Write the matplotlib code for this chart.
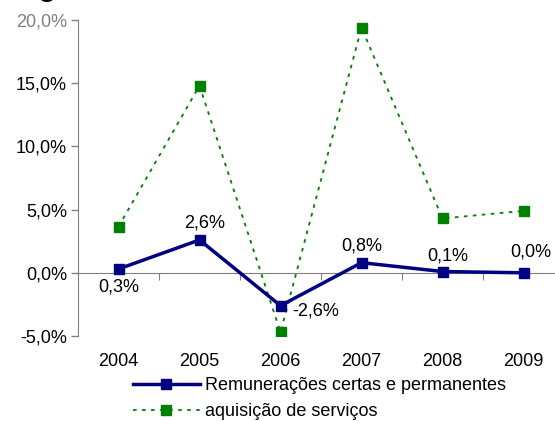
import matplotlib.pyplot as plt
from matplotlib.ticker import FuncFormatter, FixedLocator

plt.rcParams['font.family'] = ['Liberation Sans', 'DejaVu Sans']

years = ['2004', '2005', '2006', '2007', '2008', '2009']
remuneracoes = [0.3, 2.6, -2.6, 0.8, 0.1, 0.0]
aquisicao = [3.65, 14.8, -4.7, 19.4, 4.3, 4.9]
labels_rem = ['0,3%', '2,6%', '-2,6%', '0,8%', '0,1%', '0,0%']
label_offsets = [(0, -13), (4, 12), (25, -4), (0, 12), (4, 11), (5, 15)]

fs = 13
navy = '#000080'
green = '#008000'
gray = '#808080'

fig = plt.figure(figsize=(5.55, 4.21), dpi=100)
ax = fig.add_axes([78/555, 85/421, 486/555, 316/421])

x = list(range(len(years)))
ax.plot(x, remuneracoes, color=navy, lw=2.5, marker='s', ms=7.5,
        mfc=navy, mec=navy, label='Remunerações certas e permanentes', zorder=3)
ax.plot(x, aquisicao, color=green, lw=1.3, ls=(0, (2, 3)), marker='s', ms=7.5,
        mfc=green, mec=green, label='aquisição de serviços', zorder=2)

for xi, yi, lab, off in zip(x, remuneracoes, labels_rem, label_offsets):
    ax.annotate(lab, (xi, yi), xytext=off, textcoords='offset points',
                ha='center', va='center', fontsize=fs)

ax.set_xlim(-0.5, 5.5)
ax.set_ylim(-5, 20)
ax.set_yticks([-5, 0, 5, 10, 15, 20])
ax.yaxis.set_major_formatter(FuncFormatter(lambda v, p: f'{v:.1f}%'.replace('.', ',')))
ax.tick_params(axis='y', direction='out', length=5, color=gray, width=1, labelsize=fs, pad=3)
ax.get_yticklabels()[-1].set_color(gray)

ax.spines['bottom'].set_position(('data', 0))
ax.spines['bottom'].set_color(gray)
ax.spines['left'].set_color(gray)
ax.spines['top'].set_visible(False)
ax.spines['right'].set_visible(False)

ax.xaxis.set_major_locator(FixedLocator([0.5, 1.5, 2.5, 3.5, 4.5]))
ax.xaxis.set_major_formatter(FuncFormatter(lambda v, p: ''))
ax.tick_params(axis='x', which='major', direction='out', length=5, color=gray)
ax.set_xticks(x, minor=True)
ax.set_xticklabels(years, minor=True, fontsize=fs)
ax.tick_params(axis='x', which='minor', length=0, pad=58)

fig.legend(loc='upper left', bbox_to_anchor=(133/555, 1 - 377/421), frameon=False,
           fontsize=fs, handlelength=3.7, handletextpad=0.3, labelspacing=0.5,
           borderpad=0, borderaxespad=0)

fig.text(38/555, 1 + 5/421, 'g', fontsize=22, fontweight='bold', va='baseline')

fig.savefig('out.png', dpi=100)
